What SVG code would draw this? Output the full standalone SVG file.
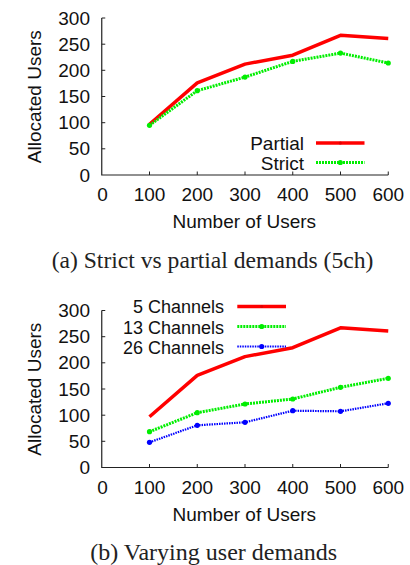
<svg xmlns="http://www.w3.org/2000/svg" xmlns:xlink="http://www.w3.org/1999/xlink" width="410" height="565" viewBox="0 0 410 565">
<style>
.axis{stroke:#222;stroke-width:1.2;fill:none}
.tick{stroke:#222;stroke-width:1;fill:none}
.t{font-family:"Liberation Sans",Arial,Helvetica,sans-serif;font-size:19px;fill:#111}
.lg{font-size:18px}
.ty{text-anchor:end}
.tx{text-anchor:middle}
.cap{font-family:"Liberation Serif","Times New Roman",serif;font-size:23px;fill:#222;text-anchor:middle}
.red{stroke:#ff0000;stroke-width:3.5;fill:none;stroke-linejoin:round}
.green{stroke:#00ee00;stroke-width:3;fill:none;stroke-dasharray:2 1;stroke-linejoin:round}
.blue{stroke:#0000ff;stroke-width:2.2;fill:none;stroke-dasharray:1.5 1;stroke-linejoin:round}
</style>
<defs>
<circle id="pg" r="2.6" fill="#00ee00"/>
<circle id="pb" r="2.6" fill="#0000ff"/>
<circle id="pr" r="1.6" fill="#e00000"/>
<g id="frame">
<path class="axis" d="M101.75,18V175H388.25"/>
<path class="tick" d="M101.75,18h3.5M101.75,44.2h3.5M101.75,70.3h3.5M101.75,96.5h3.5M101.75,122.7h3.5M101.75,148.8h3.5M149.5,175v-3.5M197.25,175v-3.5M245,175v-3.5M292.75,175v-3.5M340.5,175v-3.5M388.25,175v-3.5"/>
<g class="t ty">
<text x="90" y="24.5">300</text>
<text x="90" y="50.7">250</text>
<text x="90" y="76.8">200</text>
<text x="90" y="103">150</text>
<text x="90" y="129.2">100</text>
<text x="90" y="155.3">50</text>
<text x="90" y="181.5">0</text>
</g>
<g class="t tx">
<text x="102.5" y="201">0</text>
<text x="149.5" y="201">100</text>
<text x="197.25" y="201">200</text>
<text x="245" y="201">300</text>
<text x="292.75" y="201">400</text>
<text x="340.5" y="201">500</text>
<text x="388.25" y="201">600</text>
</g>
<text class="t tx" x="244.3" y="228.3">Number of Users</text>
<text class="t tx" transform="translate(41,96.7) rotate(-90)">Allocated Users</text>
</g>
</defs>

<g id="chart-a">
<use xlink:href="#frame"/>
<g id="series-a">
<polyline id="partial" class="red" points="149.5,124.2 197.25,82.9 245,64.1 292.75,55.2 340.5,35.3 388.25,38.4"/>
<polyline id="strict" class="green" points="149.5,125.3 197.25,90.7 245,77.1 292.75,61.4 340.5,53.1 388.25,63"/>
<g>
<use xlink:href="#pg" x="149.5" y="125.3"/><use xlink:href="#pg" x="197.25" y="90.7"/><use xlink:href="#pg" x="245" y="77.1"/><use xlink:href="#pg" x="292.75" y="61.4"/><use xlink:href="#pg" x="340.5" y="53.1"/><use xlink:href="#pg" x="388.25" y="63"/>
</g>
</g>
<g id="legend-a">
<text class="t ty" x="304" y="150">Partial</text>
<line class="red" x1="316" y1="143" x2="364.5" y2="143"/>
<use xlink:href="#pr" x="340.3" y="143"/>
<text class="t ty" x="304" y="169.5">Strict</text>
<line class="green" x1="316" y1="162.5" x2="364.5" y2="162.5"/>
<use xlink:href="#pg" x="340.3" y="162.5"/>
</g>
<text id="caption-a" class="cap" x="212.5" y="268" textLength="321.7" lengthAdjust="spacingAndGlyphs">(a) Strict vs partial demands (5ch)</text>
</g>

<g id="chart-b" transform="translate(0,292.5)">
<use xlink:href="#frame"/>
<g id="series-b">
<polyline id="ch5" class="red" points="149.5,124.2 197.25,82.9 245,64.1 292.75,55.2 340.5,35.3 388.25,38.4"/>
<polyline id="ch13" class="green" points="149.5,139.2 197.25,120.2 245,111.5 292.75,106.5 340.5,94.8 388.25,85.8"/>
<polyline id="ch26" class="blue" points="149.5,149.8 197.25,132.8 245,129.8 292.75,118.2 340.5,118.8 388.25,110.8"/>
<g>
<use xlink:href="#pg" x="149.5" y="139.2"/><use xlink:href="#pg" x="197.25" y="120.2"/><use xlink:href="#pg" x="245" y="111.5"/><use xlink:href="#pg" x="292.75" y="106.5"/><use xlink:href="#pg" x="340.5" y="94.8"/><use xlink:href="#pg" x="388.25" y="85.8"/>
<use xlink:href="#pb" x="149.5" y="149.8"/><use xlink:href="#pb" x="197.25" y="132.8"/><use xlink:href="#pb" x="245" y="129.8"/><use xlink:href="#pb" x="292.75" y="118.2"/><use xlink:href="#pb" x="340.5" y="118.8"/><use xlink:href="#pb" x="388.25" y="110.8"/>
</g>
</g>
<g id="legend-b">
<text class="t lg ty" x="224" y="20.8">5 Channels</text>
<line class="red" x1="237.3" y1="14" x2="286" y2="14"/>
<use xlink:href="#pr" x="261.7" y="14"/>
<text class="t lg ty" x="224" y="41">13 Channels</text>
<line class="green" x1="237.3" y1="34" x2="286" y2="34"/>
<use xlink:href="#pg" x="261.7" y="34"/>
<text class="t lg ty" x="224" y="61.2">26 Channels</text>
<line class="blue" x1="237.3" y1="54" x2="286" y2="54"/>
<use xlink:href="#pb" x="261.7" y="54"/>
</g>
<text id="caption-b" class="cap" x="213.7" y="267.5" textLength="247" lengthAdjust="spacingAndGlyphs">(b) Varying user demands</text>
</g>
</svg>
